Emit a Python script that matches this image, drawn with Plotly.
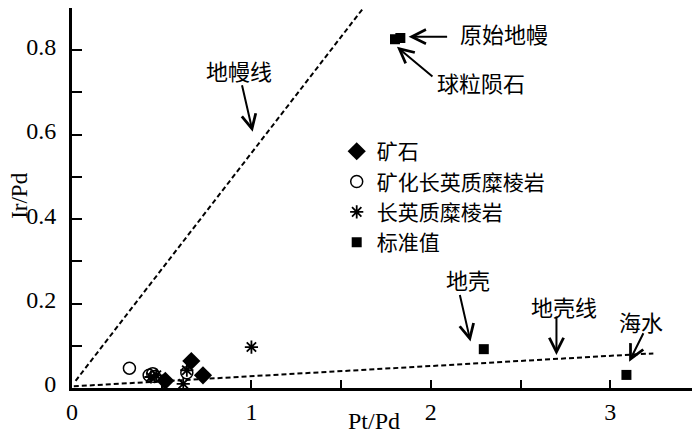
import plotly.graph_objects as go

# ---- data ----
ore_x = [0.52, 0.665, 0.73]
ore_y = [0.017, 0.064, 0.030]

mineral_x = [0.32, 0.43, 0.46, 0.45, 0.64]
mineral_y = [0.047, 0.030, 0.027, 0.034, 0.036]

felsic_x = [0.44, 0.47, 0.62, 0.64, 1.00]
felsic_y = [0.026, 0.030, 0.010, 0.042, 0.097]

std_names = ["原始地幔", "球粒陨石", "地壳", "海水"]
std_x = [1.83, 1.80, 2.295, 3.09]
std_y = [0.829, 0.826, 0.092, 0.031]

mantle_line_x = [0.02, 1.66]
mantle_line_y = [0.017, 0.92]
crust_line_x = [0.01, 3.24]
crust_line_y = [0.004, 0.082]

x_tickvals = [0, 0.5, 1, 1.5, 2, 2.5, 3, 3.5]
x_ticktext = ["0", "", "1", "", "2", "", "3", ""]
y_tickvals = [0, 0.1, 0.2, 0.3, 0.4, 0.5, 0.6, 0.7, 0.8, 0.9]
y_ticktext = ["0", "", "0.2", "", "0.4", "", "0.6", "", "0.8", ""]

x_title = "Pt/Pd"
y_title = "Ir/Pd"

# label text, anchor point (arrow tip), text position
labels = [
    ("地幔线", 1.007, 0.607, 0.933, 0.753),
    ("原始地幔", 1.876, 0.832, 2.405, 0.840),
    ("球粒陨石", 1.811, 0.808, 2.281, 0.724),
    ("地壳", 2.221, 0.110, 2.207, 0.258),
    ("地壳线", 2.700, 0.078, 2.740, 0.195),
    ("海水", 3.105, 0.062, 3.170, 0.159),
]
# arrow tail offsets in pixels (from tip)
arrow_tails = [(-11, -48), (40, 0), (37, 31), (-11, -48), (0, -40), (15, -30)]

CJK = "Noto Sans CJK SC"
SERIF = "Liberation Serif"

fig = go.Figure()

dash = "5px,3px"
fig.add_trace(go.Scatter(x=mantle_line_x, y=mantle_line_y, mode="lines",
                         line=dict(color="black", width=2, dash=dash),
                         showlegend=False, hoverinfo="skip"))
fig.add_trace(go.Scatter(x=crust_line_x, y=crust_line_y, mode="lines",
                         line=dict(color="black", width=2, dash=dash),
                         showlegend=False, hoverinfo="skip"))

fig.add_trace(go.Scatter(x=ore_x, y=ore_y, mode="markers", name="矿石",
                         marker=dict(symbol="diamond", size=14, color="black")))
fig.add_trace(go.Scatter(x=mineral_x, y=mineral_y, mode="markers", name="矿化长英质糜棱岩",
                         marker=dict(symbol="circle-open", size=12, color="black",
                                     line=dict(width=1.5, color="black"))))
fig.add_trace(go.Scatter(x=felsic_x, y=felsic_y, mode="markers", name="长英质糜棱岩",
                         marker=dict(symbol="asterisk-open", size=11, color="black",
                                     line=dict(width=1.8, color="black"))))
fig.add_trace(go.Scatter(x=std_x, y=std_y, mode="markers", name="标准值",
                         text=std_names,
                         marker=dict(symbol="square", size=10, color="black")))

annotations = []
for (txt, tx, ty, lx, ly), (ax, ay) in zip(labels, arrow_tails):
    annotations.append(dict(x=tx, y=ty, xref="x", yref="y", text="", showarrow=True,
                            ax=ax, ay=ay, arrowhead=5, arrowsize=1.4, arrowwidth=2,
                            arrowcolor="black", standoff=0, startstandoff=0))
    annotations.append(dict(x=lx, y=ly, xref="x", yref="y", text=txt, showarrow=False,
                            font=dict(family=CJK, size=22, color="black"),
                            xanchor="center", yanchor="middle"))

# axis titles
annotations.append(dict(x=0.481, y=-0.087, xref="paper", yref="paper", text=x_title,
                        showarrow=False, xanchor="center", yanchor="middle",
                        font=dict(family=SERIF, size=24, color="black")))
annotations.append(dict(x=-0.083, y=0.508, xref="paper", yref="paper", text=y_title,
                        showarrow=False, xanchor="center", yanchor="middle", textangle=-90,
                        font=dict(family=SERIF, size=23, color="black")))

fig.update_layout(
    width=700, height=436,
    margin=dict(l=64, r=8, t=0, b=56),
    paper_bgcolor="white", plot_bgcolor="white",
    annotations=annotations,
    legend=dict(x=0.4215, y=0.676, xanchor="left", yanchor="top",
                font=dict(family=CJK, size=21, color="black"),
                bgcolor="rgba(0,0,0,0)", tracegroupgap=0, itemsizing="trace"),
    xaxis=dict(range=[0, 3.5], tickvals=x_tickvals, ticktext=x_ticktext,
               ticks="inside", ticklen=8, tickwidth=2, tickcolor="black",
               showline=True, linewidth=3, linecolor="black",
               showgrid=False, zeroline=False, automargin=False,
               tickfont=dict(family=SERIF, size=24, color="black")),
    yaxis=dict(range=[0, 0.9], tickvals=y_tickvals, ticktext=y_ticktext,
               ticks="inside", ticklen=10, tickwidth=2, tickcolor="black",
               showline=True, linewidth=3, linecolor="black",
               showgrid=False, zeroline=False, automargin=False,
               ticklabelshift=-4, ticklabelstandoff=8,
               tickfont=dict(family=SERIF, size=24, color="black")),
)

fig.write_html("out.html")
